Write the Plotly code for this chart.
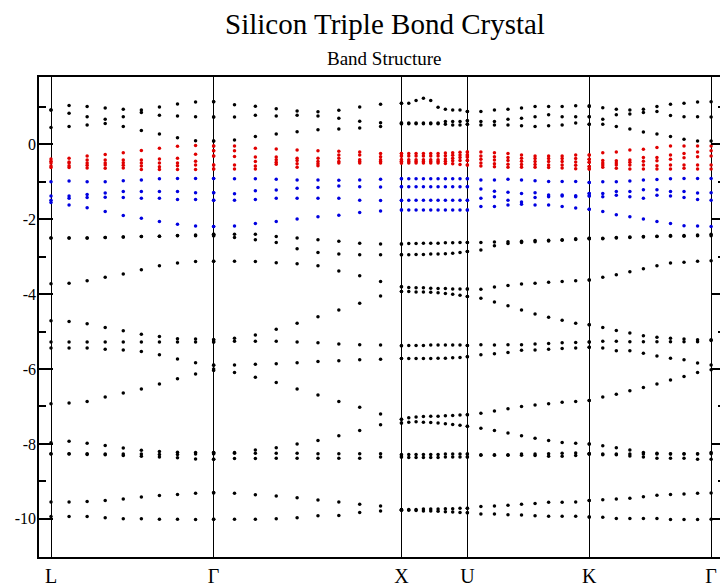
import numpy as np
import plotly.graph_objects as go

# ---------------- data ----------------
k_labels = ["L", "Γ", "X", "U", "K", "Γ"]
k_nodes = [0.0, 0.866, 1.866, 2.217, 2.866, 3.515]
points_per_segment = 10

# energies (eV) along L-Γ | Γ-X | X-U | U-K | K-Γ  (10 k-points per segment)
t1 = [0.92, 1.04, 1.01, 0.97, 0.94, 0.92, 1.00, 1.08, 1.13, 1.14,
      1.14, 1.06, 1.02, 0.95, 0.89, 0.87, 0.91, 1.00, 1.07, 1.10,
      1.10, 1.10, 1.17, 1.23, 1.17, 0.99, 0.94, 0.92, 0.92, 0.88,
      0.88, 0.88, 0.92, 0.94, 0.97, 1.01, 1.01, 1.01, 1.03, 1.03,
      1.01, 0.98, 0.94, 0.92, 0.94, 1.01, 1.07, 1.10, 1.13, 1.14]
t2 = [0.92, 0.83, 0.74, 0.67, 0.74, 0.85, 0.78, 0.76, 0.74, 0.73,
      0.73, 0.73, 0.78, 0.76, 0.78, 0.76, 0.70, 0.62, 0.58, 0.57,
      0.57, 0.57, 0.57, 0.57, 0.57, 0.57, 0.61, 0.61, 0.61, 0.63,
      0.63, 0.61, 0.61, 0.67, 0.70, 0.74, 0.79, 0.74, 0.74, 0.74,
      0.74, 0.67, 0.79, 0.81, 0.85, 0.88, 0.77, 0.74, 0.74, 0.73]
t3 = [0.45, 0.48, 0.52, 0.56, 0.48, 0.37, 0.28, 0.18, 0.10, 0.09,
      0.09, 0.12, 0.21, 0.28, 0.34, 0.39, 0.41, 0.44, 0.48, 0.55,
      0.55, 0.55, 0.55, 0.55, 0.55, 0.55, 0.54, 0.52, 0.52, 0.54,
      0.54, 0.52, 0.52, 0.52, 0.50, 0.48, 0.50, 0.52, 0.57, 0.54,
      0.54, 0.54, 0.48, 0.41, 0.33, 0.28, 0.21, 0.14, 0.09, 0.09]

r1 = [-0.39, -0.37, -0.31, -0.27, -0.22, -0.16, -0.10, -0.05, -0.03, -0.04,
      -0.04, -0.04, -0.10, -0.12, -0.15, -0.17, -0.18, -0.20, -0.24, -0.24,
      -0.24, -0.24, -0.24, -0.24, -0.24, -0.24, -0.23, -0.22, -0.21, -0.20,
      -0.20, -0.20, -0.22, -0.24, -0.28, -0.31, -0.31, -0.31, -0.28, -0.28,
      -0.28, -0.22, -0.20, -0.15, -0.13, -0.08, -0.04, -0.04, -0.04, -0.04]
r2 = [-0.45, -0.47, -0.42, -0.42, -0.42, -0.42, -0.39, -0.37, -0.26, -0.17,
      -0.17, -0.17, -0.34, -0.34, -0.37, -0.37, -0.28, -0.28, -0.33, -0.31,
      -0.31, -0.31, -0.31, -0.31, -0.31, -0.31, -0.30, -0.29, -0.28, -0.28,
      -0.28, -0.31, -0.33, -0.35, -0.37, -0.38, -0.38, -0.38, -0.38, -0.40,
      -0.40, -0.43, -0.44, -0.42, -0.35, -0.35, -0.28, -0.24, -0.20, -0.17]
r3 = [-0.50, -0.50, -0.50, -0.50, -0.49, -0.50, -0.50, -0.50, -0.45, -0.31,
      -0.31, -0.32, -0.46, -0.41, -0.43, -0.46, -0.37, -0.41, -0.41, -0.41,
      -0.41, -0.41, -0.41, -0.41, -0.41, -0.41, -0.39, -0.37, -0.35, -0.34,
      -0.34, -0.40, -0.42, -0.43, -0.45, -0.46, -0.46, -0.46, -0.47, -0.48,
      -0.48, -0.50, -0.50, -0.48, -0.45, -0.44, -0.40, -0.36, -0.33, -0.31]
r4 = [-0.58, -0.57, -0.56, -0.55, -0.56, -0.58, -0.60, -0.57, -0.55, -0.55,
      -0.55, -0.55, -0.58, -0.48, -0.52, -0.52, -0.46, -0.46, -0.46, -0.46,
      -0.46, -0.46, -0.46, -0.46, -0.46, -0.46, -0.45, -0.44, -0.43, -0.43,
      -0.43, -0.50, -0.52, -0.53, -0.54, -0.54, -0.55, -0.55, -0.56, -0.59,
      -0.59, -0.55, -0.55, -0.55, -0.55, -0.57, -0.55, -0.55, -0.55, -0.55]
r5 = [-0.62, -0.62, -0.63, -0.64, -0.63, -0.67, -0.67, -0.67, -0.67, -0.66,
      -0.66, -0.66, -0.66, -0.53, -0.61, -0.57, -0.50, -0.50, -0.50, -0.50,
      -0.50, -0.50, -0.50, -0.50, -0.50, -0.50, -0.51, -0.52, -0.54, -0.55,
      -0.55, -0.58, -0.60, -0.61, -0.61, -0.61, -0.62, -0.63, -0.65, -0.66,
      -0.66, -0.61, -0.64, -0.66, -0.66, -0.66, -0.66, -0.64, -0.66, -0.66]

b1 = [-1.00, -0.98, -1.00, -1.00, -0.97, -0.95, -0.92, -0.91, -0.91, -0.91,
      -0.91, -0.92, -0.92, -0.93, -0.95, -0.95, -0.96, -0.95, -0.93, -0.92,
      -0.92, -0.92, -0.92, -0.92, -0.92, -0.92, -0.92, -0.92, -0.92, -0.92,
      -0.92, -0.95, -0.95, -0.93, -0.95, -0.97, -0.99, -0.99, -0.99, -1.02,
      -1.02, -1.00, -1.00, -0.98, -0.95, -0.94, -0.92, -0.91, -0.91, -0.91]
b2 = [-1.38, -1.38, -1.34, -1.30, -1.26, -1.26, -1.26, -1.26, -1.29, -1.29,
      -1.29, -1.32, -1.24, -1.22, -1.17, -1.15, -1.11, -1.13, -1.14, -1.13,
      -1.13, -1.13, -1.13, -1.13, -1.13, -1.13, -1.13, -1.13, -1.13, -1.13,
      -1.13, -1.19, -1.25, -1.28, -1.31, -1.29, -1.35, -1.35, -1.37, -1.31,
      -1.31, -1.31, -1.26, -1.26, -1.21, -1.21, -1.26, -1.26, -1.30, -1.29]
b3 = [-1.49, -1.44, -1.42, -1.41, -1.42, -1.44, -1.44, -1.47, -1.47, -1.49,
      -1.49, -1.49, -1.47, -1.44, -1.44, -1.44, -1.44, -1.49, -1.50, -1.50,
      -1.49, -1.49, -1.49, -1.49, -1.49, -1.49, -1.49, -1.49, -1.49, -1.49,
      -1.49, -1.44, -1.40, -1.49, -1.54, -1.42, -1.40, -1.38, -1.40, -1.38,
      -1.38, -1.40, -1.36, -1.40, -1.44, -1.36, -1.38, -1.42, -1.47, -1.49]
b4 = [-1.55, -1.62, -1.69, -1.79, -1.90, -1.97, -2.06, -2.13, -2.18, -2.19,
      -2.19, -2.18, -2.11, -2.06, -1.99, -1.93, -1.89, -1.82, -1.78, -1.75,
      -1.75, -1.75, -1.75, -1.75, -1.75, -1.75, -1.75, -1.75, -1.75, -1.75,
      -1.75, -1.66, -1.66, -1.62, -1.60, -1.62, -1.62, -1.66, -1.70, -1.73,
      -1.73, -1.79, -1.88, -1.93, -1.99, -2.06, -2.11, -2.17, -2.18, -2.19]

q1 = [-2.50, -2.50, -2.50, -2.49, -2.47, -2.46, -2.45, -2.43, -2.42, -2.40,
      -2.40, -2.40, -2.40, -2.46, -2.50, -2.55, -2.59, -2.64, -2.66, -2.66,
      -2.66, -2.65, -2.65, -2.64, -2.64, -2.64, -2.63, -2.63, -2.62, -2.62,
      -2.62, -2.62, -2.61, -2.60, -2.59, -2.57, -2.56, -2.55, -2.52, -2.51,
      -2.51, -2.51, -2.49, -2.47, -2.46, -2.45, -2.43, -2.43, -2.42, -2.40]
q2 = [-2.50, -2.50, -2.50, -2.49, -2.47, -2.46, -2.45, -2.44, -2.44, -2.44,
      -2.44, -2.49, -2.55, -2.62, -2.79, -2.89, -2.93, -2.95, -2.95, -2.95,
      -2.95, -2.95, -2.94, -2.94, -2.93, -2.93, -2.92, -2.91, -2.89, -2.86,
      -2.86, -2.82, -2.71, -2.65, -2.62, -2.60, -2.58, -2.56, -2.54, -2.52,
      -2.52, -2.52, -2.50, -2.49, -2.47, -2.46, -2.45, -2.45, -2.44, -2.44]

g1 = [-3.72, -3.71, -3.64, -3.55, -3.46, -3.35, -3.24, -3.17, -3.13, -3.12,
      -3.12, -3.12, -3.13, -3.16, -3.19, -3.24, -3.38, -3.51, -3.66, -3.80,
      -3.80, -3.82, -3.83, -3.83, -3.84, -3.85, -3.85, -3.86, -3.86, -3.86,
      -3.86, -3.87, -3.81, -3.77, -3.73, -3.71, -3.68, -3.66, -3.64, -3.62,
      -3.62, -3.55, -3.48, -3.40, -3.32, -3.24, -3.17, -3.15, -3.12, -3.11]
g2 = [-4.71, -4.73, -4.79, -4.89, -4.98, -5.07, -5.13, -5.19, -5.20, -5.22,
      -5.22, -5.18, -5.09, -4.94, -4.78, -4.60, -4.42, -4.24, -4.05, -3.93,
      -3.93, -3.93, -3.94, -3.94, -3.95, -3.96, -3.98, -4.00, -4.03, -4.06,
      -4.06, -4.11, -4.21, -4.31, -4.42, -4.53, -4.62, -4.70, -4.78, -4.82,
      -4.82, -4.89, -4.97, -5.04, -5.11, -5.15, -5.18, -5.20, -5.22, -5.22]
g3 = [-5.28, -5.28, -5.28, -5.28, -5.28, -5.28, -5.28, -5.28, -5.28, -5.28,
      -5.28, -5.26, -5.26, -5.26, -5.28, -5.30, -5.33, -5.35, -5.36, -5.38,
      -5.38, -5.37, -5.37, -5.37, -5.36, -5.36, -5.36, -5.36, -5.36, -5.37,
      -5.37, -5.35, -5.36, -5.35, -5.35, -5.33, -5.32, -5.30, -5.29, -5.28,
      -5.28, -5.26, -5.26, -5.27, -5.27, -5.27, -5.27, -5.27, -5.27, -5.24]
g4 = [-5.44, -5.44, -5.44, -5.47, -5.49, -5.53, -5.62, -5.73, -5.83, -5.90,
      -5.89, -5.89, -5.87, -5.86, -5.83, -5.80, -5.78, -5.75, -5.74, -5.72,
      -5.72, -5.72, -5.72, -5.72, -5.72, -5.71, -5.71, -5.70, -5.69, -5.67,
      -5.67, -5.62, -5.59, -5.56, -5.50, -5.49, -5.47, -5.45, -5.44, -5.42,
      -5.42, -5.44, -5.51, -5.51, -5.58, -5.65, -5.71, -5.75, -5.84, -5.89]
g5 = [-6.93, -6.91, -6.87, -6.75, -6.64, -6.53, -6.40, -6.26, -6.13, -6.04,
      -6.00, -6.09, -6.22, -6.36, -6.53, -6.69, -6.87, -7.02, -7.20, -7.34,
      -7.34, -7.30, -7.28, -7.27, -7.26, -7.26, -7.25, -7.24, -7.23, -7.22,
      -7.22, -7.18, -7.12, -7.06, -7.00, -6.96, -6.93, -6.89, -6.87, -6.84,
      -6.84, -6.75, -6.67, -6.58, -6.49, -6.40, -6.29, -6.20, -6.09, -6.02]
g6 = [-7.97, -7.93, -7.98, -8.04, -8.11, -8.17, -8.20, -8.22, -8.23, -8.23,
      -8.23, -8.23, -8.16, -8.10, -8.00, -7.91, -7.78, -7.64, -7.49, -7.44,
      -7.44, -7.42, -7.41, -7.42, -7.43, -7.44, -7.46, -7.48, -7.50, -7.53,
      -7.53, -7.58, -7.64, -7.71, -7.78, -7.85, -7.91, -7.96, -7.98, -8.00,
      -8.00, -8.05, -8.10, -8.16, -8.23, -8.25, -8.26, -8.26, -8.26, -8.23]

n1 = [-8.26, -8.26, -8.26, -8.27, -8.27, -8.27, -8.28, -8.28, -8.27, -8.26,
      -8.26, -8.25, -8.25, -8.25, -8.25, -8.26, -8.26, -8.26, -8.26, -8.29,
      -8.29, -8.28, -8.28, -8.28, -8.28, -8.28, -8.27, -8.27, -8.27, -8.27,
      -8.27, -8.29, -8.29, -8.29, -8.27, -8.27, -8.26, -8.25, -8.24, -8.26,
      -8.26, -8.27, -8.27, -8.27, -8.27, -8.27, -8.27, -8.27, -8.27, -8.26]
n2 = [-8.27, -8.27, -8.28, -8.29, -8.31, -8.33, -8.35, -8.37, -8.40, -8.41,
      -8.41, -8.39, -8.39, -8.38, -8.38, -8.38, -8.38, -8.38, -8.35, -8.35,
      -8.35, -8.36, -8.36, -8.36, -8.36, -8.36, -8.35, -8.35, -8.35, -8.35,
      -8.35, -8.30, -8.30, -8.30, -8.30, -8.31, -8.33, -8.33, -8.31, -8.27,
      -8.27, -8.29, -8.29, -8.32, -8.35, -8.38, -8.38, -8.38, -8.41, -8.41]

p1 = [-9.55, -9.55, -9.54, -9.51, -9.47, -9.42, -9.38, -9.35, -9.32, -9.30,
      -9.31, -9.32, -9.36, -9.39, -9.44, -9.50, -9.55, -9.61, -9.66, -9.75,
      -9.75, -9.75, -9.75, -9.74, -9.74, -9.74, -9.73, -9.73, -9.72, -9.72,
      -9.72, -9.67, -9.66, -9.64, -9.61, -9.59, -9.56, -9.56, -9.55, -9.51,
      -9.51, -9.49, -9.47, -9.45, -9.41, -9.37, -9.35, -9.34, -9.32, -9.31]
p2 = [-9.94, -9.94, -9.94, -9.97, -10.00, -10.00, -10.01, -10.01, -10.02, -10.01,
      -10.01, -10.01, -10.01, -10.00, -9.97, -9.92, -9.91, -9.83, -9.79, -9.77,
      -9.77, -9.77, -9.78, -9.79, -9.79, -9.80, -9.81, -9.82, -9.83, -9.84,
      -9.84, -9.87, -9.87, -9.89, -9.90, -9.92, -9.93, -9.93, -9.93, -9.95,
      -9.95, -9.96, -9.99, -9.99, -9.99, -9.99, -10.02, -10.02, -10.02, -10.01]

black_bands = [t1, t2, t3, q1, q2, g1, g2, g3, g4, g5, g6, n1, n2, p1, p2]
red_bands = [r1, r2, r3, r4, r5]
blue_bands = [b1, b2, b3, b4]

y_major = [0, -2, -4, -6, -8, -10]
y_major_text = ["0", "-2", "-4", "-6", "-8", "-10"]
y_minor = [1, -1, -3, -5, -7, -9, -11]

# ---------------- figure ----------------
kx = np.concatenate([np.linspace(k_nodes[i], k_nodes[i + 1], points_per_segment)
                     for i in range(len(k_nodes) - 1)])

fig = go.Figure()
for bands, color in [(black_bands, "#000000"), (red_bands, "#e00000"), (blue_bands, "#0000e0")]:
    xs, ys = [], []
    for b in bands:
        xs.extend(kx.tolist())
        ys.extend(b)
    fig.add_trace(go.Scatter(x=xs, y=ys, mode="markers",
                             marker=dict(color=color, size=3.5, symbol="circle",
                                         line=dict(width=0)),
                             showlegend=False, hoverinfo="skip"))

# dummy trace for the right-side tick axis
fig.add_trace(go.Scatter(x=[], y=[], yaxis="y2", showlegend=False))

serif = "Liberation Serif, Times New Roman, serif"
yrange = [-11.02, 1.80]

fig.update_layout(
    width=720, height=588,
    margin=dict(l=39, r=0, t=77, b=31),
    paper_bgcolor="white", plot_bgcolor="white",
    title=dict(text="Silicon Triple Bond Crystal", x=385 / 720, xanchor="center",
               y=1 - 24 / 588, yanchor="middle",
               font=dict(family=serif, size=29, color="black")),
    xaxis=dict(range=[-0.0639, 3.5623], tickmode="array", tickvals=k_nodes,
               ticktext=k_labels, showgrid=True, gridcolor="black", gridwidth=1,
               showline=True, linecolor="black", linewidth=1.5, mirror=True,
               ticks="", zeroline=False,
               tickfont=dict(family=serif, size=20, color="black")),
    yaxis=dict(range=yrange, tickmode="array", tickvals=y_major, ticktext=y_major_text,
               ticks="inside", ticklen=14, tickwidth=1.5, tickcolor="black",
               minor=dict(tickmode="array", tickvals=y_minor, ticks="inside",
                          ticklen=7, tickwidth=1.5, tickcolor="black"),
               showline=True, linecolor="black", linewidth=1.5, mirror=False,
               showgrid=False, zeroline=False, ticklabelstandoff=-2,
               tickfont=dict(family=serif, size=16, color="black")),
    yaxis2=dict(range=yrange, overlaying="y", side="right", anchor="x",
                tickmode="array", tickvals=y_major, ticks="inside", ticklen=9,
                tickwidth=1.5, tickcolor="black",
                minor=dict(tickmode="array", tickvals=y_minor, ticks="inside",
                           ticklen=2, tickwidth=1.5, tickcolor="black"),
                showticklabels=False, showline=False, showgrid=False, zeroline=False),
    annotations=[dict(text="Band Structure", xref="paper", yref="paper",
                      x=(384 - 39) / 681, y=1 + 19 / 480, xanchor="center",
                      yanchor="middle", showarrow=False,
                      font=dict(family=serif, size=19, color="black"))],
)

fig.write_html("out.html")
